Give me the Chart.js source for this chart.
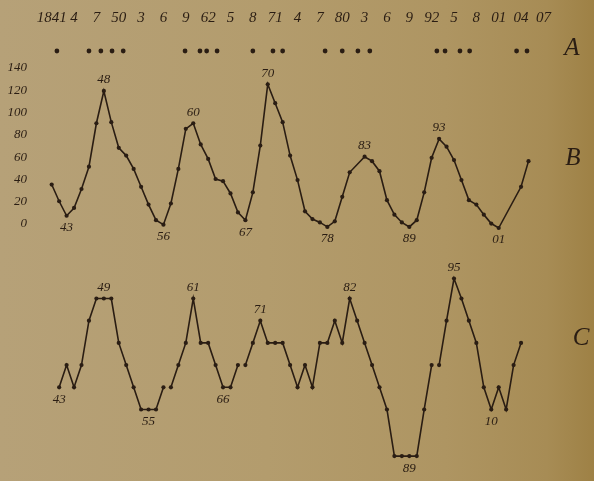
<!DOCTYPE html>
<html>
<head>
<meta charset="utf-8">
<script src="https://cdn.jsdelivr.net/npm/chart.js@4.4.1/dist/chart.umd.min.js"></script>
<style>
  html, body { margin: 0; padding: 0; }
  body {
    width: 594px; height: 481px; overflow: hidden;
    background: linear-gradient(90deg, #b6a178 0%, #b39c6d 45%, #ae9562 75%, #a78c55 92%, #9e8145 100%);
  }
  canvas { display: block; }
</style>
</head>
<body>
<canvas id="c" width="594" height="481"></canvas>
<script>
// ---- data ----
const TOP_YEARS  = [1841,1844,1847,1850,1853,1856,1859,1862,1865,1868,1871,1874,1877,1880,1883,1886,1889,1892,1895,1898,1901,1904,1907];
const TOP_LABELS = ['1841','4','7','50','3','6','9','62','5','8','71','4','7','80','3','6','9','92','5','8','01','04','07'];

// Row A: years marked with a dot
const A_YEARS = [1841.7,1846.0,1847.6,1849.1,1850.6,1858.9,1860.9,1861.8,1863.2,1868.0,1870.7,1872.0,
                 1877.7,1880.0,1882.1,1883.7,1892.7,1893.8,1895.8,1897.1,1903.4,1904.8];

// Curve B
const B_YEARS = [1841,1842,1843,1844,1845,1846,1847,1848,1849,1850,1851,1852,1853,1854,1855,1856,1857,1858,1859,1860,
                 1861,1862,1863,1864,1865,1866,1867,1868,1869,1870,1871,1872,1873,1874,1875,1876,1877,1878,1879,1880,
                 1881,1883,1884,1885,1886,1887,1888,1889,1890,1891,1892,1893,1894,1895,1896,1897,1898,1899,1900,1901,
                 1904,1905];
const B_VALUES = [39,24,11,18,35,55,94,123,95,72,65,53,37,21,7,3,22,53,89,94,
                  75,62,44,42,31,14,7,32,74,129,112,95,65,43,15,8,5,1,6,28,
                  50,64,60,51,25,12,5,1,7,32,63,80,73,61,43,25,21,12,4,0,
                  37,60];
const B_TICKS = [0,20,40,60,80,100,120,140];
const B_NOTES = {1843:'43',1848:'48',1856:'56',1860:'60',1867:'67',1870:'70',1878:'78',1883:'83',1889:'89',1893:'93',1901:'01'};

// Curve C
const C_YEARS = [1842,1843,1844,1845,1846,1847,1848,1849,1850,1851,1852,1853,1854,1855,1856,1857,1858,1859,1860,1861,
                 1862,1863,1864,1865,1866,1867,1868,1869,1870,1871,1872,1873,1874,1875,1876,1877,1878,1879,1880,1881,
                 1882,1883,1884,1885,1886,1887,1888,1889,1890,1891,1892,1893,1894,1895,1896,1897,1898,1899,1900,1901,
                 1902,1903,1904];
const C_VALUES = [4,5,4,5,7,8,8,8,6,5,4,3,3,3,4,4,5,6,8,6,
                  6,5,4,4,5,5,6,7,6,6,6,5,4,5,4,6,6,7,6,8,
                  7,6,5,4,3,0.9,0.9,0.9,0.9,3,5,5,7,8.9,8,7,6,4,3,4,
                  3,5,6];
const C_BREAK_AFTER = [1856,1866,1892];
const C_TICKS = [1,2,3,4,5,6,7,8,9];
const C_NOTES = {1842:'43',1848:'49',1854:'55',1860:'61',1864:'66',1869:'71',1881:'82',1889:'89',1895:'95',1900:'10'};

const ROW_NAMES = ['A','B','C'];

// ---- drawing ----
const INK = '#2a1d13';
const FONT = "'Liberation Serif', 'DejaVu Serif', serif";

const notesPlugin = {
  id: 'notes',
  afterDatasetsDraw(chart) {
    const ctx = chart.ctx;
    ctx.save();
    ctx.fillStyle = INK;
    ctx.textAlign = 'center';
    ctx.textBaseline = 'middle';
    ctx.font = 'italic 13px ' + FONT;
    chart.data.datasets.forEach((ds, di) => {
      if (!ds.notes) return;
      const meta = chart.getDatasetMeta(di);
      ds.data.forEach((p, i) => {
        const txt = ds.notes[p.x];
        if (!txt) return;
        const nb = [];
        for (let k = i - 2; k <= i + 2; k++) {
          if (k !== i && k >= 0 && k < ds.data.length) nb.push(ds.data[k].y);
        }
        const mean = nb.reduce((a, b) => a + b, 0) / nb.length;
        const el = meta.data[i];
        const dy = p.y > mean ? -11 : 12;
        ctx.fillText(txt, el.x, el.y + dy);
      });
    });
    // row letters
    ctx.font = 'italic 25px ' + FONT;
    const pos = [[572, 48], [573, 158], [581, 338]];
    ROW_NAMES.forEach((n, i) => ctx.fillText(n, pos[i][0], pos[i][1]));
    ctx.restore();
  }
};

function fixTicks(list) {
  return (axis) => { axis.ticks = list.map(v => ({ value: v })); };
}
function noPad(w, h) {
  return (axis) => {
    if (w !== undefined) axis.width = w;
    if (h !== undefined) axis.height = h;
    axis.paddingLeft = 0; axis.paddingRight = 0;
    axis.paddingTop = 0; axis.paddingBottom = 0;
  };
}

new Chart(document.getElementById('c'), {
  type: 'line',
  data: {
    datasets: [
      {
        label: 'A',
        data: A_YEARS.map(x => ({ x, y: 0 })),
        yAxisID: 'yA',
        showLine: false,
        pointRadius: 2.4,
        pointBackgroundColor: INK,
        pointBorderWidth: 0,
        borderColor: INK
      },
      {
        label: 'B',
        data: B_YEARS.map((x, i) => ({ x, y: B_VALUES[i] })),
        notes: B_NOTES,
        yAxisID: 'yB',
        borderColor: INK,
        borderWidth: 1.6,
        pointRadius: 2.1,
        pointBackgroundColor: INK,
        pointBorderWidth: 0,
        tension: 0
      },
      {
        label: 'C',
        data: C_YEARS.map((x, i) => ({ x, y: C_VALUES[i] })),
        notes: C_NOTES,
        yAxisID: 'yC',
        borderColor: INK,
        borderWidth: 1.6,
        pointRadius: 2.1,
        pointBackgroundColor: INK,
        pointBorderWidth: 0,
        tension: 0,
        segment: {
          borderColor: c => C_BREAK_AFTER.includes(c.p0.parsed.x) ? 'rgba(0,0,0,0)' : INK
        }
      }
    ]
  },
  options: {
    responsive: false,
    devicePixelRatio: 1,
    animation: false,
    events: [],
    layout: { padding: 0, autoPadding: false },
    plugins: { legend: { display: false }, tooltip: { enabled: false }, title: { display: false } },
    scales: {
      x: {
        type: 'linear',
        position: 'top',
        min: 1838.087,
        max: 1913.792,
        grid: { display: false, drawTicks: false },
        border: { display: false },
        afterBuildTicks: fixTicks(TOP_YEARS),
        afterFit: noPad(undefined, 40),
        ticks: {
          autoSkip: false,
          maxRotation: 0,
          padding: 13,
          color: INK,
          font: { family: FONT, style: 'italic', size: 15 },
          callback: (v, i) => TOP_LABELS[i]
        }
      },
      yB: {
        type: 'linear',
        position: 'left',
        weight: 2,
        min: -227.04,
        max: 168.72,
        grid: { display: false, drawTicks: false },
        border: { display: false },
        afterBuildTicks: fixTicks(B_TICKS),
        afterFit: noPad(30),
        ticks: {
          padding: 3,
          labelOffset: -4,
          color: INK,
          font: { family: FONT, style: 'italic', size: 13 },
          callback: v => String(v)
        }
      },
      yC: {
        type: 'linear',
        position: 'left',
        weight: 1,
        min: -0.221,
        max: 19.644,
        grid: { display: false, drawTicks: false },
        border: { display: false },
        afterBuildTicks: fixTicks(C_TICKS),
        afterFit: noPad(0),
        ticks: {
          padding: 5,
          labelOffset: -8.5,
          color: INK,
          font: { family: FONT, style: 'italic', size: 14 },
          callback: v => String(v)
        }
      },
      yA: {
        type: 'linear',
        display: false,
        min: -430,
        max: 11
      }
    }
  },
  plugins: [notesPlugin]
});
</script>
</body>
</html>
